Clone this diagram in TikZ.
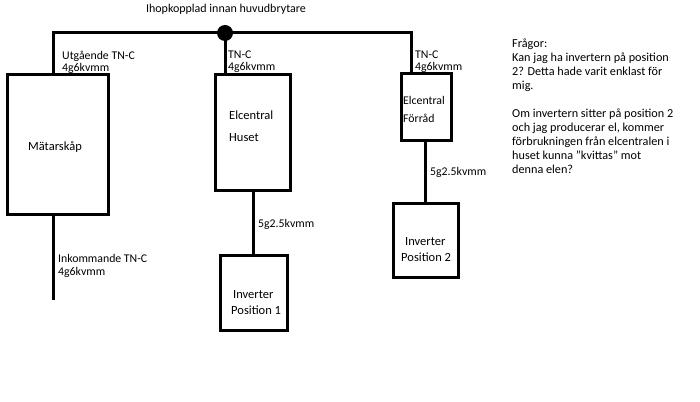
\documentclass[tikz,border=0pt]{standalone}
\usepackage{fontspec}
\setmainfont{Carlito}
\begin{document}
\begin{tikzpicture}[x=1pt,y=-1pt,
  wire/.style={line width=3pt},
  box/.style={draw,line width=3pt,rectangle,inner sep=0pt},
  lbl/.style={anchor=west,align=left,inner sep=0pt,font=\fontsize{11.8}{12}\selectfont},
  btxt/.style={align=left,inner sep=0pt,font=\fontsize{12.5}{16}\selectfont},
  note/.style={anchor=north west,align=left,inner sep=0pt,font=\fontsize{12.2}{14}\selectfont}]
\useasboundingbox (0,0) rectangle (700,401);
% boxes
\node[box,minimum width=101pt,minimum height=139pt] (mat) at (57.5,144.5) {};
\node[btxt] (matt) at (55,147.5) {Mätarskåp};
\node[box,minimum width=75pt,minimum height=115pt] (hus) at (252.5,132.5) {};
\node[btxt,anchor=west,font=\fontsize{12.5}{22}\selectfont] (hust) at (229,126) {Elcentral\\Huset};
\node[box,minimum width=50pt,minimum height=66pt] (forr) at (426,107) {};
\node[btxt,anchor=west,font=\fontsize{11.8}{18}\selectfont] (forrt) at (403,109.5) {Elcentral\\Förråd};
\node[box,minimum width=67pt,minimum height=75pt] (inv1) at (253.5,292.5) {};
\node[btxt,anchor=west] (inv1t) at (231,303) {\hspace*{2pt}Inverter\\Position 1};
\node[box,minimum width=65pt,minimum height=74pt] (inv2) at (425.5,240) {};
\node[btxt,anchor=west] (inv2t) at (401,250) {\hspace*{4pt}Inverter\\Position 2};
% bus
\coordinate (busL) at (53,33);
\coordinate (busR) at (411,33);
\coordinate (feed) at (53,300);
\node[circle,fill=black,inner sep=0pt,minimum size=16pt] (dot) at (225,33) {};
\draw[wire] (busL |- mat.north) -- (busL) -- (busR) -- (busR |- forr.north);
\draw[wire] (dot.center) -- (dot.center |- hus.north);
\draw[wire] (mat.south -| busL) -- (feed);
\draw[wire] (hus.south -| inv1.north) -- (inv1.north);
\draw[wire] (forr.south -| inv2.north) -- (inv2.north);
% labels
\node[anchor=south,inner sep=0pt,font=\fontsize{12}{12}\selectfont] (top) at (226,15) {Ihopkopplad innan huvudbrytare};
\node[lbl] (l1) at (62,62) {Utgående TN-C\\4g6kvmm};
\node[lbl] (l2) at (228,62) {TN-C\\4g6kvmm};
\node[lbl] (l3) at (415,62) {TN-C\\4g6kvmm};
\node[lbl,font=\fontsize{11.8}{13}\selectfont] (l4) at (58,265.5) {Inkommande TN-C\\4g6kvmm};
\node[lbl] (l5) at (258,224) {5g2.5kvmm};
\node[lbl] (l6) at (430,172.5) {5g2.5kvmm};
\node[note] (q) at (512,39) {Frågor:\\Kan jag ha invertern på position\\2? Detta hade varit enklast för\\mig.\\[14pt]Om invertern sitter på position 2\\och jag producerar el, kommer\\förbrukningen från elcentralen i\\huset kunna "kvittas" mot\\denna elen?};
\end{tikzpicture}
\end{document}
